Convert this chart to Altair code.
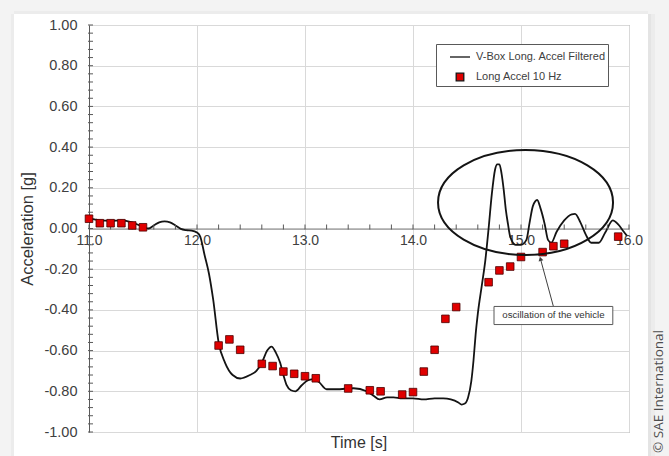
import altair as alt
import pandas as pd

LINE_NAME = "V-Box Long. Accel Filtered"
PTS_NAME = "Long Accel 10 Hz"

# ---- data ----
line_time = [11.00, 11.05, 11.10, 11.20, 11.30, 11.40, 11.50, 11.55, 11.60, 11.65,
             11.70, 11.75, 11.80, 11.85, 11.90, 11.95, 12.00, 12.03, 12.07, 12.11,
             12.15, 12.20, 12.26, 12.33, 12.40, 12.49, 12.55, 12.60, 12.65, 12.69,
             12.73, 12.77, 12.80, 12.83, 12.87, 12.91, 12.97, 13.03, 13.09, 13.13,
             13.20, 13.29, 13.45, 13.57, 13.63, 13.69, 13.76, 13.82, 13.90, 14.00,
             14.10, 14.20, 14.28, 14.35, 14.42, 14.45, 14.48, 14.51, 14.54, 14.56,
             14.58, 14.60, 14.64, 14.67, 14.70, 14.73, 14.76, 14.78, 14.80, 14.82,
             14.84, 14.86, 14.88, 14.90, 14.95, 15.00, 15.05, 15.08, 15.11, 15.15,
             15.18, 15.22, 15.25, 15.28, 15.33, 15.40, 15.47, 15.50, 15.55, 15.60,
             15.65, 15.72, 15.78, 15.85, 15.90, 15.95, 15.98]
line_accel = [0.050, 0.045, 0.040, 0.038, 0.040, 0.030, 0.008, 0.000, 0.015, 0.030,
              0.035, 0.030, 0.015, -0.002, -0.008, -0.010, -0.020, -0.040, -0.130, -0.220,
              -0.350, -0.560, -0.660, -0.720, -0.737, -0.720, -0.700, -0.660, -0.600, -0.580,
              -0.610, -0.660, -0.720, -0.770, -0.795, -0.800, -0.770, -0.745, -0.740, -0.755,
              -0.790, -0.790, -0.785, -0.800, -0.820, -0.840, -0.830, -0.830, -0.835, -0.835,
              -0.840, -0.835, -0.835, -0.840, -0.855, -0.865, -0.860, -0.830, -0.750, -0.650,
              -0.520, -0.420, -0.270, -0.155, 0.000, 0.170, 0.290, 0.315, 0.315, 0.270,
              0.190, 0.090, 0.020, -0.040, -0.080, -0.080, -0.056, 0.030, 0.110, 0.140,
              0.100, 0.020, -0.056, -0.070, -0.016, 0.040, 0.070, 0.072, 0.030, -0.030,
              -0.070, -0.070, -0.020, 0.040, 0.020, -0.015, -0.035]

pts_time = [11.0, 11.1, 11.2, 11.3, 11.4, 11.5, 12.2, 12.3, 12.4, 12.6, 12.7, 12.8,
            12.9, 13.0, 13.1, 13.4, 13.6, 13.7, 13.9, 14.0, 14.1, 14.2, 14.3, 14.4,
            14.7, 14.8, 14.9, 15.0, 15.2, 15.3, 15.4, 15.9]
pts_accel = [0.048, 0.026, 0.026, 0.026, 0.015, 0.006, -0.575, -0.545, -0.596, -0.665,
             -0.676, -0.703, -0.714, -0.726, -0.736, -0.786, -0.795, -0.800, -0.816, -0.804,
             -0.703, -0.596, -0.444, -0.386, -0.264, -0.206, -0.187, -0.140, -0.116, -0.087,
             -0.075, -0.040]

x_ticks = [11.0, 12.0, 13.0, 14.0, 15.0, 16.0]
y_ticks = [-1.0, -0.8, -0.6, -0.4, -0.2, 0.0, 0.2, 0.4, 0.6, 0.8, 1.0]
x_minor = [round(11.0 + 0.2 * i, 1) for i in range(26)]
y_minor = [round(-1.0 + 0.04 * i, 2) for i in range(51)]

ellipse_center_t = [15.042]
ellipse_center_g = [0.128]
note_text = "oscillation of the vehicle"
note_t, note_t2 = [14.75], [15.85]
note_g, note_g2 = [-0.383], [-0.472]
arrow_t, arrow_g = [15.30], [-0.383]
arrow_t2, arrow_g2 = [15.18], [-0.149]

# ---- layout / style ----
W, H = 540, 407
FONT = "Liberation Sans"
LINE_PATH = "M-1,0L1,0"
SQUARE_PATH = "M-0.38,-0.38L0.38,-0.38L0.38,0.38L-0.38,0.38Z"
ELLIPSE_PATH = ("M-1,0C-1,-0.3314,-0.5523,-0.6,0,-0.6C0.5523,-0.6,1,-0.3314,1,0"
                "C1,0.3314,0.5523,0.6,0,0.6C-0.5523,0.6,-1,0.3314,-1,0Z")

xs = alt.Scale(domain=[11, 16], nice=False, zero=False)
ys = alt.Scale(domain=[-1, 1], nice=False, zero=False)

line_df = pd.DataFrame({"t": line_time, "g": line_accel})
pts_df = pd.DataFrame({"t": pts_time, "g": pts_accel, "series": PTS_NAME})
one = pd.DataFrame({"k": [0]})


def deco(x, x2, y, y2, color):
    return alt.Chart(one).mark_rect(color=color).encode(
        x=alt.value(x), x2=alt.value(x2), y=alt.value(y), y2=alt.value(y2))


x_axis = alt.Axis(values=x_ticks, format=".1f", offset=-H / 2, labelFontSize=14,
                  labelPadding=5, labelColor="#404040", ticks=False, domainColor="#7f7f7f",
                  gridColor="#d9d9d9", title=None, labelFlush=False, labelOverlap=False)
y_axis = alt.Axis(values=y_ticks, format=".2f",
                  labelExpr="replace(datum.label, '\u2212', '-')",
                  labelFontSize=14.5, labelPadding=12,
                  labelColor="#404040", ticks=False, domainColor="#595959",
                  gridColor="#d9d9d9", title="Acceleration [g]", titleFontSize=16.5,
                  titleFontWeight="normal", titleColor="#333333", titlePadding=8,
                  labelOverlap=False)


def X(field):
    return alt.X(field, scale=xs, axis=x_axis)


def Y(field):
    return alt.Y(field, scale=ys, axis=y_axis)


decor = [
    deco(-89, -75, -25, H + 24, "#f3f3f3"),
    deco(-89, W + 40, -25, -11, "#f3f3f3"),
    deco(W + 19, W + 40, -25, H + 24, "#f3f3f3"),
    deco(W + 19, W + 22, -11, H + 24, "#e4e4e4"),
    deco(W + 22, W + 26, -11, H + 24, "#ececec"),
    deco(-78, -75, -11, H + 24, "#ececec"),
    deco(-75, W + 19, -14, -11, "#ececec"),
]

line = alt.Chart(line_df).mark_line(color="#141414", strokeWidth=1.8, interpolate="monotone").encode(
    x=X("t:Q"), y=Y("g:Q"))

ytick = alt.Chart(pd.DataFrame({"g": y_minor, "t": 11.0})).mark_tick(
    orient="horizontal", size=5, thickness=1, color="#595959", opacity=1, xOffset=1.5).encode(
    x=X("t:Q"), y=Y("g:Q"))
xtick = alt.Chart(pd.DataFrame({"t": x_minor, "g": 0.0})).mark_tick(
    orient="vertical", size=5, thickness=1, color="#595959", opacity=1, yOffset=-1.5).encode(
    x=X("t:Q"), y=Y("g:Q"))

legend = alt.Legend(title=None, orient="none", legendX=347, legendY=19,
                    strokeColor="#595959", fillColor="white", padding=2, rowPadding=4,
                    symbolOffset=11, labelOffset=5, labelFontSize=11, labelColor="#404040",
                    labelFont=FONT, symbolSize=400, symbolStrokeColor="#141414",
                    symbolStrokeWidth=1.3, labelLimit=300)
dom = [LINE_NAME, PTS_NAME]
pts = alt.Chart(pts_df).mark_point(filled=True, size=400, opacity=1, stroke="#4a0000",
                                   strokeWidth=0.8).encode(
    x=X("t:Q"), y=Y("g:Q"),
    color=alt.Color("series:N", scale=alt.Scale(domain=dom, range=["#141414", "#e00000"]),
                    legend=legend),
    shape=alt.Shape("series:N", scale=alt.Scale(domain=dom, range=[LINE_PATH, SQUARE_PATH]),
                    legend=legend),
)

ellipse = alt.Chart(pd.DataFrame({"t": ellipse_center_t, "g": ellipse_center_g})).mark_point(
    shape=ELLIPSE_PATH, size=175 * 175, filled=False, color="#141414", strokeWidth=2,
    opacity=1).encode(x=X("t:Q"), y=Y("g:Q"))

arrow_df = pd.DataFrame({"t": arrow_t, "g": arrow_g, "t2": arrow_t2, "g2": arrow_g2})
arrow = alt.Chart(arrow_df).mark_rule(color="#404040", strokeWidth=1).encode(
    x=X("t:Q"), y=Y("g:Q"), x2="t2:Q", y2="g2:Q")
arrow_head = alt.Chart(arrow_df).mark_point(shape="triangle-up", angle=345, size=24,
                                            filled=True, color="#404040", opacity=1).encode(
    x=X("t2:Q"), y=Y("g2:Q"))

box_df = pd.DataFrame({"t": note_t, "t2": note_t2, "g": note_g, "g2": note_g2})
box_df["tm"] = [(a + b) / 2 for a, b in zip(note_t, note_t2)]
box_df["gm"] = [(a + b) / 2 for a, b in zip(note_g, note_g2)]
box = alt.Chart(box_df).mark_rect(fill="white", stroke="#595959", strokeWidth=1).encode(
    x=X("t:Q"), x2="t2:Q", y=Y("g:Q"), y2="g2:Q")
note = alt.Chart(box_df).mark_text(text=note_text, fontSize=9.7, font=FONT,
                                   color="#333333").encode(x=X("tm:Q"), y=Y("gm:Q"))

xtitle = alt.Chart(one).mark_text(text="Time [s]", fontSize=16, font=FONT, color="#333333",
                                  baseline="middle").encode(
    x=alt.value(W / 2), y=alt.value(H + 11))

copyright_ = alt.Chart(one).mark_text(text="© SAE International", angle=270, align="left",
                                      baseline="alphabetic", fontSize=13.5, font="Open Sans",
                                      color="#4d4d4d").encode(
    x=alt.value(W + 34), y=alt.value(H + 21))

chart = alt.layer(
    *decor, line, ytick, xtick, pts, ellipse, arrow, arrow_head, box, note, xtitle, copyright_
).properties(
    width=W, height=H, background="white",
    padding={"left": 89, "right": 40, "top": 25, "bottom": 24},
    autosize=alt.AutoSizeParams(type="none"),
).configure_view(stroke="#8c8c8c", strokeWidth=1).configure_axis(
    labelFont=FONT, titleFont=FONT)

chart.save("out.html", embed_options={"renderer": "svg", "actions": False})
